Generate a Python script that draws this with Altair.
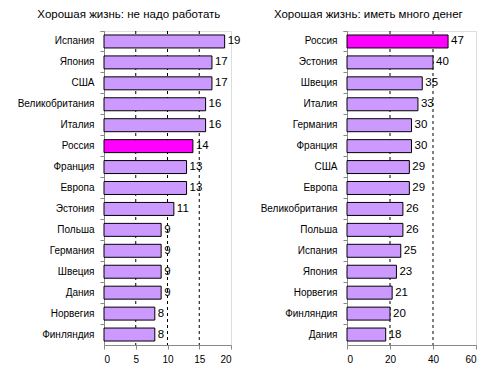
import altair as alt
import pandas as pd

left_title = "Хорошая жизнь: не надо работать"
left_countries = ["Испания", "Япония", "США", "Великобритания", "Италия", "Россия",
                  "Франция", "Европа", "Эстония", "Польша", "Германия", "Швеция",
                  "Дания", "Норвегия", "Финляндия"]
left_values = [19, 17, 17, 16, 16, 14, 13, 13, 11, 9, 9, 9, 9, 8, 8]
left_ticks = [0, 5, 10, 15, 20]

right_title = "Хорошая жизнь: иметь много денег"
right_countries = ["Россия", "Эстония", "Швеция", "Италия", "Германия", "Франция",
                   "США", "Европа", "Великобритания", "Польша", "Испания", "Япония",
                   "Норвегия", "Финляндия", "Дания"]
right_values = [47, 40, 35, 33, 30, 30, 29, 29, 26, 26, 25, 23, 21, 20, 18]
right_ticks = [0, 20, 40, 60]

highlight = "Россия"
FONT = "Liberation Sans"


def panel(title, countries, values, ticks, width):
    df = pd.DataFrame({"country": countries, "value": values})
    grid_df = pd.DataFrame({"value": ticks[1:-1]})
    xscale = alt.Scale(domain=[ticks[0], ticks[-1]], nice=False, zero=True)
    xaxis = alt.Axis(values=ticks, title=None, grid=False, tickSize=4,
                     labelPadding=5, format="d")
    x = alt.X("value:Q", scale=xscale, axis=xaxis)
    y = alt.Y("country:N", sort=countries,
              scale=alt.Scale(paddingInner=0, paddingOuter=0),
              axis=alt.Axis(title=None, bandPosition=0, tickExtra=True,
                            tickSize=4, labelPadding=6))
    grid = alt.Chart(grid_df).mark_rule(
        strokeDash=[3, 3], color="black", strokeWidth=1
    ).encode(x=x)
    bars = alt.Chart(df).mark_bar(
        stroke="black", strokeWidth=1, height={"band": 0.62}
    ).encode(
        x=x, y=y,
        color=alt.condition(alt.datum.country == highlight,
                            alt.value("#FF00FF"), alt.value("#CC99FF")),
    )
    text = alt.Chart(df).mark_text(
        align="left", baseline="middle", dx=3, font=FONT, fontSize=11.5, color="black"
    ).encode(x=x, y=y, text=alt.Text("value:Q"))
    return alt.layer(grid, bars, text).properties(
        width=width, height=314,
        title=alt.TitleParams(title, anchor="middle", frame="bounds",
                              font=FONT, fontSize=11.5, fontWeight="normal",
                              color="black", offset=6),
    )


left = panel(left_title, left_countries, left_values, left_ticks, 127)
right = panel(right_title, right_countries, right_values, right_ticks, 129)

chart = alt.hconcat(left, right, spacing=18).properties(
    padding={"left": 8, "top": 0, "right": 5, "bottom": 5}
).configure_view(
    stroke="#808080", strokeWidth=1
).configure_axis(
    domainColor="black", domainWidth=1, tickColor="black", tickWidth=1,
    labelFont=FONT, labelFontSize=11.5, labelColor="black",
).configure(background="white")

chart.save("out.html", embed_options={"renderer": "svg", "actions": False})
